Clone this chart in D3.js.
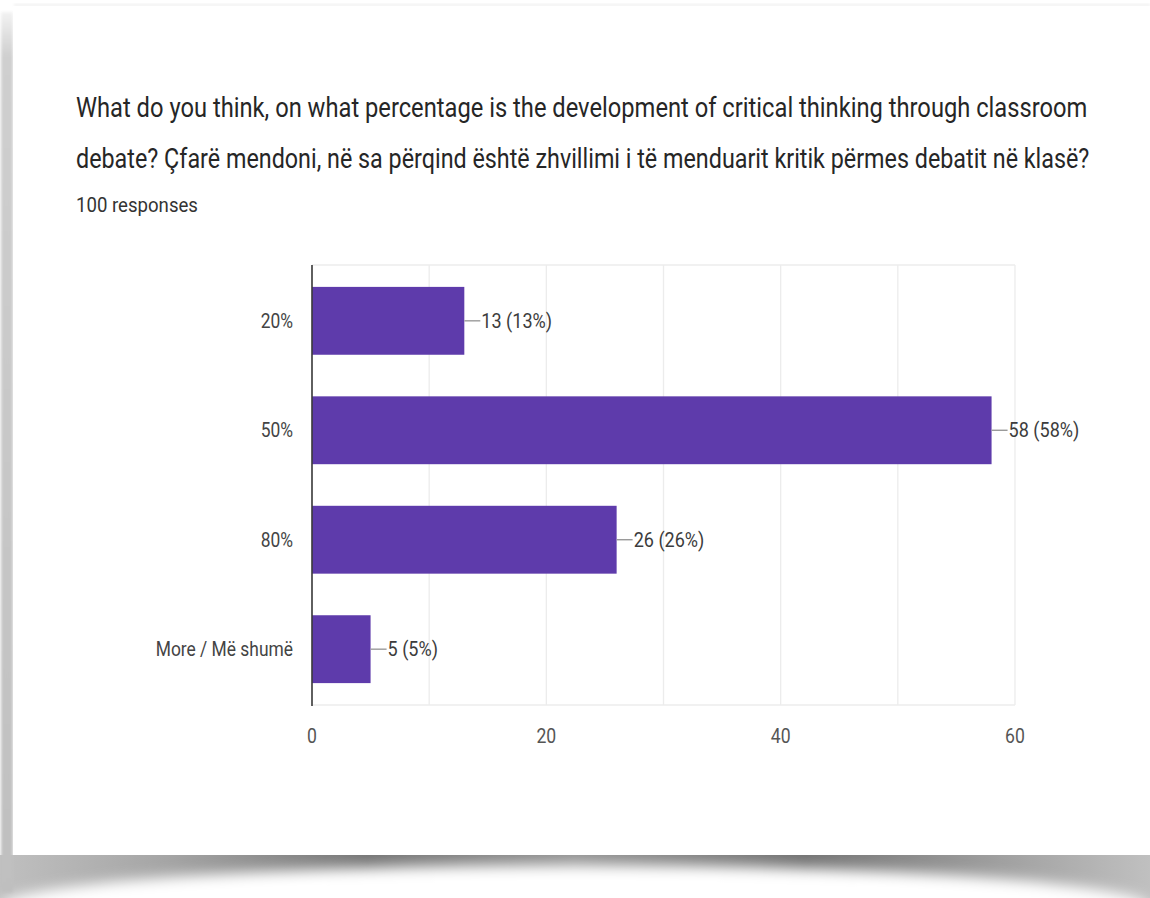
<!DOCTYPE html>
<html>
<head>
<meta charset="utf-8">
<script src="https://cdn.jsdelivr.net/npm/d3@7"></script>
<style>
  html, body { margin: 0; padding: 0; background: #ffffff; }
  svg { display: block; }
  text { font-family: Roboto, "Noto Sans", Arial, sans-serif; }
</style>
</head>
<body>
<svg id="chart" width="1150" height="898"></svg>
<script>
// Survey question and response data
const titleLines = [
  "What do you think, on what percentage is the development of critical thinking through classroom",
  "debate? Çfarë mendoni, në sa përqind është zhvillimi i të menduarit kritik përmes debatit në klasë?"
];
const responseCount = 100;
const categories = ["20%", "50%", "80%", "More / Më shumë"];
const counts = [13, 58, 26, 5];
const xTicks = [0, 20, 40, 60];
const gridTicks = [0, 10, 20, 30, 40, 50, 60];

const svg = d3.select("#chart");
const defs = svg.append("defs");

// ---- paper card with curled shadow ----
const blurSoft = defs.append("filter").attr("id", "soft").attr("x", "-20%").attr("y", "-50%").attr("width", "140%").attr("height", "200%");
blurSoft.append("feGaussianBlur").attr("stdDeviation", 7);
const blurEdge = defs.append("filter").attr("id", "edge").attr("x", "-50%").attr("y", "-5%").attr("width", "200%").attr("height", "110%");
blurEdge.append("feGaussianBlur").attr("stdDeviation", 1.6);

const bottomGrad = defs.append("linearGradient").attr("id", "bottomGrad").attr("x1", 0).attr("x2", 1).attr("y1", 0).attr("y2", 0);
[[0, "#c0c0c0"], [0.15, "#a4a4a4"], [0.32, "#767676"], [0.5, "#949494"], [0.7, "#747474"], [0.87, "#a0a0a0"], [1, "#c0c0c0"]]
  .forEach(([o, c]) => bottomGrad.append("stop").attr("offset", o).attr("stop-color", c));

const leftGrad = defs.append("linearGradient").attr("id", "leftGrad").attr("x1", 0).attr("x2", 0).attr("y1", 0).attr("y2", 1);
[[0, "#f2f2f2"], [0.05, "#cfcfcf"], [1, "#bfbfbf"]]
  .forEach(([o, c]) => leftGrad.append("stop").attr("offset", o).attr("stop-color", c));

const paper = svg.append("g");
paper.append("rect").attr("x", 0).attr("y", 855).attr("width", 1150).attr("height", 43).attr("fill", "url(#bottomGrad)");
paper.append("ellipse").attr("cx", 575).attr("cy", 907).attr("rx", 575).attr("ry", 42)
  .attr("fill", "#ffffff").attr("filter", "url(#soft)");
paper.append("rect").attr("x", 1).attr("y", 12).attr("width", 12).attr("height", 880)
  .attr("fill", "url(#leftGrad)").attr("filter", "url(#edge)");
paper.append("rect").attr("x", 14).attr("y", 4).attr("width", 1136).attr("height", 2)
  .attr("fill", "#ececec").attr("filter", "url(#edge)");
paper.append("rect").attr("x", 13).attr("y", 6).attr("width", 1137).attr("height", 849).attr("fill", "#ffffff");

// Horizontally condense a text node to a fraction of its natural width
function condense(sel, k, anchor) {
  sel.each(function () {
    const t = d3.select(this);
    const w = this.getComputedTextLength();
    const x = +t.attr("x");
    const nw = w * k;
    let x0 = x;
    if (anchor === "end") x0 = x - nw;
    else if (anchor === "middle") x0 = x - nw / 2;
    t.attr("text-anchor", "start").attr("x", x0)
      .attr("textLength", nw).attr("lengthAdjust", "spacingAndGlyphs");
  });
}

// ---- title (two lines in a narrow face, scaled to the card width) ----
const title = svg.append("g").attr("fill", "#262626");
const lineWidths = [1012, 1014];
title.selectAll("text.title").data(titleLines).join("text")
  .attr("class", "title")
  .attr("x", 0)
  .attr("y", 0)
  .attr("font-size", 28.5)
  .text(d => d)
  .each(function (d, i) {
    const k = lineWidths[i] / this.getComputedTextLength();
    d3.select(this).attr("transform", `translate(76,${117 + i * 51}) scale(${k},1)`);
  });

const sub = svg.append("text").attr("x", 76).attr("y", 212).attr("font-size", 20)
  .attr("fill", "#333").text(`${responseCount} responses`);
condense(sub, 0.93, "start");

// ---- bar chart ----
const x = d3.scaleLinear().domain([0, 60]).range([312, 1015]);
const y = d3.scaleBand().domain(categories).range([265, 705]).paddingInner(0.38).paddingOuter(0.2);

const grid = svg.append("g");
grid.selectAll("line.v").data(gridTicks).join("line")
  .attr("x1", d => x(d)).attr("x2", d => x(d))
  .attr("y1", 265).attr("y2", 705)
  .attr("stroke", "#ececec").attr("stroke-width", 1.3);
grid.selectAll("line.h").data([265, 705]).join("line")
  .attr("x1", x(0)).attr("x2", x(60))
  .attr("y1", d => d).attr("y2", d => d)
  .attr("stroke", "#ececec").attr("stroke-width", 1.3);

const rows = categories.map((c, i) => ({ cat: c, n: counts[i] }));

svg.append("g").selectAll("rect").data(rows).join("rect")
  .attr("x", x(0)).attr("y", d => y(d.cat))
  .attr("width", d => x(d.n) - x(0)).attr("height", y.bandwidth())
  .attr("fill", "#5e3bab");

// axis line at zero
svg.append("line").attr("x1", x(0)).attr("x2", x(0)).attr("y1", 265).attr("y2", 706)
  .attr("stroke", "#3a3a3a").attr("stroke-width", 1.6);

// value annotations with leader line
const ann = svg.append("g");
ann.selectAll("line").data(rows).join("line")
  .attr("x1", d => x(d.n)).attr("x2", d => x(d.n) + 16)
  .attr("y1", d => y(d.cat) + y.bandwidth() / 2).attr("y2", d => y(d.cat) + y.bandwidth() / 2)
  .attr("stroke", "#9a9a9a").attr("stroke-width", 1.4);
const annText = ann.selectAll("text").data(rows).join("text")
  .attr("x", d => x(d.n) + 17)
  .attr("y", d => y(d.cat) + y.bandwidth() / 2 + 7)
  .attr("font-size", 20.5).attr("fill", "#3c3c3c")
  .text(d => `${d.n} (${Math.round(d.n / responseCount * 100)}%)`);
condense(annText, 0.88, "start");

// category labels
const yLab = svg.append("g").selectAll("text").data(categories).join("text")
  .attr("x", 293)
  .attr("y", d => y(d) + y.bandwidth() / 2 + 7)
  .attr("font-size", 20).attr("fill", "#444")
  .text(d => d);
condense(yLab, 0.87, "end");

// x tick labels
const xLab = svg.append("g").selectAll("text").data(xTicks).join("text")
  .attr("x", d => x(d))
  .attr("y", 743)
  .attr("font-size", 20).attr("fill", "#555")
  .text(d => d);
condense(xLab, 0.88, "middle");
</script>
</body>
</html>
